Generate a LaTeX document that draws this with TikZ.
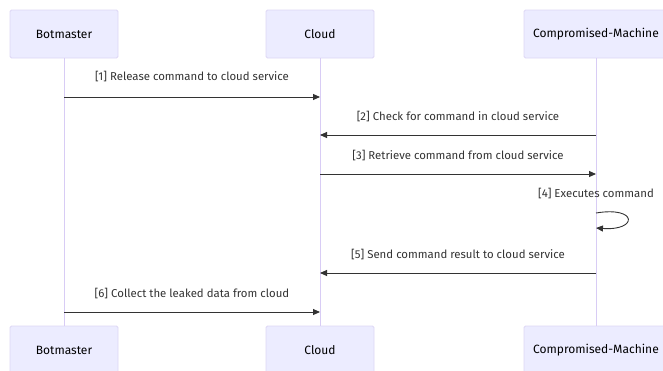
\documentclass[tikz,border=0pt]{standalone}
\usepackage{fontspec}
\setmainfont{Fira Sans}
\usetikzlibrary{arrows.meta}
\definecolor{actfill}{HTML}{ECECFF}
\definecolor{actline}{HTML}{DDD6F5}
\definecolor{lifeline}{HTML}{D8CCF5}
\definecolor{msg}{HTML}{333333}
\tikzset{
  actor/.style={draw=actline, fill=actfill, line width=0.8pt, minimum height=48pt, inner sep=0pt, font=\fontsize{12}{14}\selectfont, text=black, rounded corners=1.5pt},
  life/.style={draw=lifeline, line width=0.8pt},
  msgline/.style={draw=msg, line width=0.9pt, -{Triangle[length=7pt,width=6pt]}},
  msglabel/.style={font=\fontsize{11.4}{13}\selectfont, text=msg, inner sep=0pt}
}
\begin{document}
\begin{tikzpicture}[x=1pt,y=-1pt]
\useasboundingbox (0,0) rectangle (663,370);
\begin{scope}
\clip (0,0) rectangle (663,370);
% top actors
\node[actor, minimum width=108pt] (bt) at (64,34) {Botmaster};
\node[actor, minimum width=108pt] (ct) at (320,34) {Cloud};
\node[actor, minimum width=144pt] (mt) at (596,34) {Compromised-Machine};
% bottom actors
\node[actor, minimum width=108pt] (bb) at (64,350) {Botmaster};
\node[actor, minimum width=108pt] (cb) at (320,350) {Cloud};
\node[actor, minimum width=144pt] (mb) at (596,350) {Compromised-Machine};
\end{scope}
% lifelines
\draw[life] (bt.south) -- (bb.north);
\draw[life] (ct.south) -- (cb.north);
\draw[life] (mt.south) -- (mb.north);
% message anchor points
\coordinate (b1) at (64,97);   \coordinate (c1) at (320,97);
\coordinate (m2) at (596,135); \coordinate (c2) at (320,135);
\coordinate (c3) at (320,174); \coordinate (m3) at (596,174);
\coordinate (m4a) at (596,213); \coordinate (m4b) at (596,228);
\coordinate (m5) at (596,273); \coordinate (c5) at (320,273);
\coordinate (b6) at (64,312);  \coordinate (c6) at (320,312);
% messages
\draw[msgline] (b1) -- (c1);
\node[msglabel] (l1) at (192,77) {[1] Release command to cloud service};
\draw[msgline] (m2) -- (c2);
\node[msglabel] (l2) at (458,117) {[2] Check for command in cloud service};
\draw[msgline] (c3) -- (m3);
\node[msglabel] (l3) at (458,156) {[3] Retrieve command from cloud service};
\node[msglabel] (l4) at (596,194) {[4] Executes command};
\draw[msgline] (m4a) .. controls (638,206) and (638,231) .. (m4b);
\draw[msgline] (m5) -- (c5);
\node[msglabel] (l5) at (458,255) {[5] Send command result to cloud service};
\draw[msgline] (b6) -- (c6);
\node[msglabel] (l6) at (192,294) {[6] Collect the leaked data from cloud};
\end{tikzpicture}
\end{document}
